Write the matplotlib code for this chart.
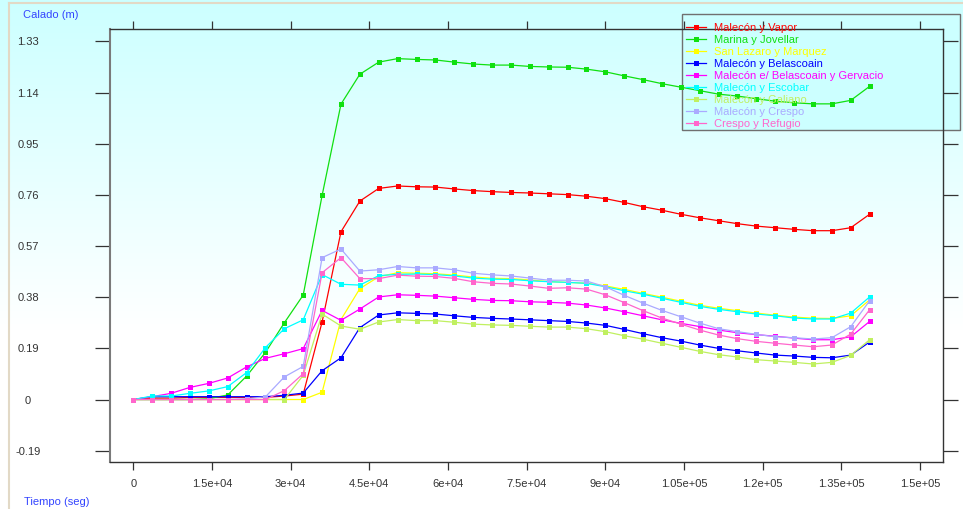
import matplotlib
matplotlib.use("Agg")
import matplotlib.pyplot as plt
import numpy as np
from matplotlib.patches import Rectangle
from matplotlib.lines import Line2D

plt.rcParams['font.family'] = ['Liberation Sans', 'DejaVu Sans']

# time stamps (s), one point per hour
tiempo = [0, 3600, 7200, 10800, 14400, 18000, 21600, 25200, 28800, 32400,
          36000, 39600, 43200, 46800, 50400, 54000, 57600, 61200, 64800, 68400,
          72000, 75600, 79200, 82800, 86400, 90000, 93600, 97200, 100800, 104400,
          108000, 111600, 115200, 118800, 122400, 126000, 129600, 133200, 136800, 140400]

malecon_vapor = [0, 0.005, 0.005, 0.008, 0.008, 0.008, 0.008, 0.008, 0.013, 0.02,
                 0.288, 0.623, 0.737, 0.784, 0.793, 0.790, 0.789, 0.782, 0.776, 0.772,
                 0.769, 0.767, 0.764, 0.761, 0.755, 0.746, 0.732, 0.716, 0.703, 0.688,
                 0.675, 0.664, 0.653, 0.644, 0.638, 0.632, 0.627, 0.627, 0.638, 0.688]
marina_jovellar = [0, 0, 0, 0, 0.003, 0.017, 0.087, 0.175, 0.285, 0.388,
                   0.758, 1.097, 1.208, 1.253, 1.266, 1.263, 1.261, 1.253, 1.246, 1.242,
                   1.242, 1.237, 1.235, 1.234, 1.227, 1.217, 1.202, 1.188, 1.173, 1.160,
                   1.147, 1.134, 1.127, 1.117, 1.108, 1.102, 1.098, 1.098, 1.111, 1.163]
san_lazaro = [0, 0, 0, 0, 0, 0, 0, 0, 0, 0,
              0.027, 0.297, 0.412, 0.456, 0.471, 0.469, 0.467, 0.462, 0.455, 0.450,
              0.449, 0.444, 0.438, 0.435, 0.432, 0.422, 0.409, 0.394, 0.380, 0.365,
              0.350, 0.339, 0.330, 0.321, 0.313, 0.306, 0.302, 0.301, 0.311, 0.370]
malecon_belascoain = [0, 0.0105, 0.0105, 0.0105, 0.0105, 0.0105, 0.0105, 0.0105, 0.0156, 0.024,
                      0.107, 0.155, 0.267, 0.314, 0.322, 0.320, 0.3175, 0.311, 0.305, 0.3015,
                      0.299, 0.296, 0.293, 0.290, 0.284, 0.2755, 0.2605, 0.2445, 0.2296, 0.217,
                      0.2024, 0.190, 0.181, 0.1727, 0.165, 0.1615, 0.1566, 0.155, 0.165, 0.2135]
malecon_gervacio = [0, 0.0105, 0.023, 0.045, 0.060, 0.080, 0.121, 0.153, 0.170, 0.189,
                    0.331, 0.294, 0.336, 0.381, 0.389, 0.387, 0.384, 0.378, 0.372, 0.368,
                    0.367, 0.363, 0.361, 0.358, 0.351, 0.340, 0.326, 0.311, 0.296, 0.283,
                    0.271, 0.258, 0.248, 0.241, 0.235, 0.228, 0.222, 0.222, 0.233, 0.290]
malecon_escobar = [0, 0.013, 0.013, 0.023, 0.032, 0.048, 0.100, 0.193, 0.263, 0.296,
                   0.464, 0.428, 0.425, 0.460, 0.465, 0.466, 0.464, 0.459, 0.451, 0.447,
                   0.446, 0.441, 0.4375, 0.435, 0.4315, 0.419, 0.404, 0.391, 0.376, 0.361,
                   0.346, 0.335, 0.326, 0.3175, 0.311, 0.3026, 0.299, 0.299, 0.321, 0.381]
malecon_galiano = [0, 0, 0, 0, 0, 0, 0, 0, 0, 0.09,
                   0.3175, 0.273, 0.261, 0.288, 0.297, 0.293, 0.293, 0.287, 0.280, 0.277,
                   0.2755, 0.272, 0.269, 0.269, 0.263, 0.252, 0.237, 0.224, 0.209, 0.194,
                   0.179, 0.1665, 0.158, 0.148, 0.143, 0.138, 0.132, 0.138, 0.164, 0.222]
malecon_crespo = [0, 0, 0, 0, 0, 0, 0.003, 0.01, 0.084, 0.123,
                  0.527, 0.559, 0.477, 0.482, 0.494, 0.489, 0.489, 0.482, 0.469, 0.463,
                  0.459, 0.451, 0.443, 0.443, 0.440, 0.419, 0.387, 0.358, 0.331, 0.3075,
                  0.284, 0.263, 0.252, 0.242, 0.233, 0.2296, 0.2247, 0.2296, 0.2705, 0.367]
crespo_refugio = [0, 0, 0, 0, 0, 0, 0, 0, 0.033, 0.096,
                  0.471, 0.527, 0.449, 0.449, 0.462, 0.458, 0.457, 0.450, 0.4375, 0.4315,
                  0.429, 0.4215, 0.413, 0.415, 0.410, 0.389, 0.360, 0.330, 0.3026, 0.280,
                  0.258, 0.2395, 0.226, 0.216, 0.209, 0.2024, 0.196, 0.2024, 0.243, 0.3335]

series = [
    ("Malecón y Vapor", malecon_vapor, "#ff0000"),
    ("Marina y Jovellar", marina_jovellar, "#10e010"),
    ("San Lazaro y Marquez", san_lazaro, "#ffff00"),
    ("Malecón y Belascoain", malecon_belascoain, "#0000ff"),
    ("Malecón e/ Belascoain y Gervacio", malecon_gervacio, "#ff00ff"),
    ("Malecón y Escobar", malecon_escobar, "#00ffff"),
    ("Malecón y Galiano", malecon_galiano, "#c0f060"),
    ("Malecón y Crespo", malecon_crespo, "#aaaaff"),
    ("Crespo y Refugio", crespo_refugio, "#ff66cc"),
]

y_ticks = [-0.19, 0, 0.19, 0.38, 0.57, 0.76, 0.95, 1.14, 1.33]
y_labels = ["-0.19", "0", "0.19", "0.38", "0.57", "0.76", "0.95", "1.14", "1.33"]
x_ticks = [0, 15000, 30000, 45000, 60000, 75000, 90000, 105000, 120000, 135000, 150000]
x_labels = ["0", "1.5e+04", "3e+04", "4.5e+04", "6e+04", "7.5e+04", "9e+04",
            "1.05e+05", "1.2e+05", "1.35e+05", "1.5e+05"]

W, H = 963, 509
fig = plt.figure(figsize=(W / 100, H / 100), dpi=100)

# background: light cyan fading to white
bg = fig.add_axes([0, 0, 1, 1], zorder=-3)
bg.axis("off")
rows = np.arange(H)
shade = 0.80 + 0.20 * np.clip(rows / 330.0, 0, 1)
img = np.ones((H, 1, 3))
img[:, 0, 0] = shade
bg.imshow(img, aspect="auto", extent=[0, 1, 0, 1], origin="upper")

# thin beige border on left and top
fig.add_artist(Line2D([9 / W, 9 / W], [0, 1 - 3 / H], transform=fig.transFigure,
                      color="#e2d9c6", lw=1.5))
fig.add_artist(Line2D([9 / W, 1], [1 - 3 / H, 1 - 3 / H], transform=fig.transFigure,
                      color="#e2d9c6", lw=1.5))

# legend box
fig.patches.append(Rectangle((682 / W, 1 - 130 / H), 278 / W, 116 / H,
                             transform=fig.transFigure, facecolor="#ccffff",
                             edgecolor="#707070", lw=1.0, zorder=-2))

ax = fig.add_axes([110 / W, 47 / H, 833 / W, 433 / H], zorder=0)
ax.set_facecolor("none")

handles = []
for name, vals, col in series:
    h, = ax.plot(tiempo, vals, color=col, lw=0.9, marker="s", markersize=3.6,
                 markeredgewidth=0, label=name)
    handles.append(h)

ax.set_xlim(-4443, 154390)
ax.set_ylim(-0.232, 1.376)
ax.set_xticks(x_ticks)
ax.set_xticklabels(x_labels)
ax.set_yticks(y_ticks)
ax.set_yticklabels(y_labels)

ax.tick_params(axis="y", direction="out", length=11, width=0.9, color="#333333",
               labelsize=8, labelcolor="#333333", left=True, right=True, pad=48)
ax.tick_params(axis="x", direction="out", length=6, width=0.9, color="#333333",
               labelsize=8, labelcolor="#333333", top=True, bottom=True, pad=6.5)
for lbl in ax.get_yticklabels():
    lbl.set_horizontalalignment("center")

for side in ["top", "right", "bottom"]:
    ax.spines[side].set_color("#333333")
    ax.spines[side].set_linewidth(1.0)
ax.spines["left"].set_color("#7a7a7a")
ax.spines["left"].set_linewidth(1.5)

fig.legend(handles=handles, loc="upper left", bbox_to_anchor=(686 / W, 1 - 23 / H),
           bbox_transform=fig.transFigure, frameon=False, fontsize=8,
           labelcolor="linecolor", handlelength=1.8, handletextpad=0.7,
           labelspacing=0.18, borderpad=0, borderaxespad=0)

fig.text(23 / W, 1 - 15 / H, "Calado (m)", color="#3344ff", fontsize=8,
         ha="left", va="center")
fig.text(24 / W, 1 - 502 / H, "Tiempo (seg)", color="#3344ff", fontsize=8,
         ha="left", va="center")

fig.savefig("out.png", dpi=100)
